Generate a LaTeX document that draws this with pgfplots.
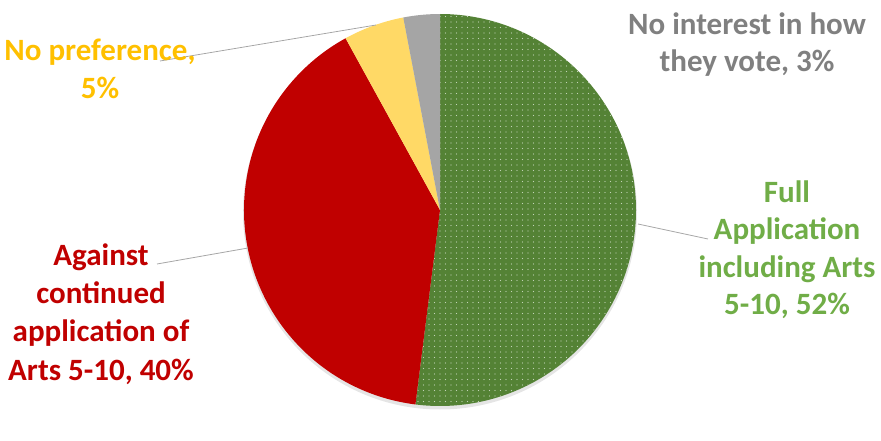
\documentclass[border=0pt]{standalone}
\usepackage{pgfplots}
\pgfplotsset{compat=1.18}
\usepackage{pgfplotstable}
\usetikzlibrary{patterns.meta}
\usepackage{fontspec}
\setmainfont{Carlito}

\definecolor{sgreen}{HTML}{548235}
\definecolor{sred}{HTML}{C00000}
\definecolor{syellow}{HTML}{FFD966}
\definecolor{sgray}{HTML}{A5A5A5}
\definecolor{lgreen}{HTML}{70AD47}
\definecolor{lred}{HTML}{C00000}
\definecolor{lyellow}{HTML}{FFC000}
\definecolor{lgray}{HTML}{808080}
\definecolor{leader}{HTML}{A6A6A6}

\tikzset{lbl/.style={font=\bfseries\fontsize{31}{37.5}\selectfont, anchor=base, inner sep=0pt}}

% shares in percent, clockwise from 12 o'clock
\pgfplotstableread{
share
52
40
5
3
}\piedata

\begin{document}
\begin{tikzpicture}
\pgfplotstablegetelem{0}{share}\of\piedata \let\sA\pgfplotsretval
\pgfplotstablegetelem{1}{share}\of\piedata \let\sB\pgfplotsretval
\pgfplotstablegetelem{2}{share}\of\piedata \let\sC\pgfplotsretval
\pgfplotstablegetelem{3}{share}\of\piedata \let\sD\pgfplotsretval
\pgfmathsetmacro\aA{90-3.6*\sA}
\pgfmathsetmacro\aB{\aA-3.6*\sB}
\pgfmathsetmacro\aC{\aB-3.6*\sC}
\pgfmathsetmacro\aD{\aC-3.6*\sD}
\def\cx{440}\def\cy{230}\def\R{196}
\begin{axis}[
  x=1pt, y=1pt,
  xmin=0, xmax=881, ymin=0, ymax=440,
  hide axis, clip=false,
]
\path (axis cs:0,0) rectangle (axis cs:881,440);
% soft shadow
\fill[black, opacity=0.10] (axis cs:\cx,\cy-2.5) circle[radius=\R pt+1pt];
% slices
\fill[sgreen] (axis cs:\cx,\cy) -- (axis cs:{\cx+\R*cos(90)},{\cy+\R*sin(90)})
  arc[start angle=90, end angle=\aA, radius=\R pt] -- cycle;
\fill[pattern={Dots[distance=5.5pt, radius=0.6pt]}, pattern color=white!65!sgreen]
  (axis cs:\cx,\cy) -- (axis cs:{\cx+\R*cos(90)},{\cy+\R*sin(90)})
  arc[start angle=90, end angle=\aA, radius=\R pt] -- cycle;
\fill[sred] (axis cs:\cx,\cy) -- (axis cs:{\cx+\R*cos(\aA)},{\cy+\R*sin(\aA)})
  arc[start angle=\aA, end angle=\aB, radius=\R pt] -- cycle;
\fill[syellow] (axis cs:\cx,\cy) -- (axis cs:{\cx+\R*cos(\aB)},{\cy+\R*sin(\aB)})
  arc[start angle=\aB, end angle=\aC, radius=\R pt] -- cycle;
\fill[sgray] (axis cs:\cx,\cy) -- (axis cs:{\cx+\R*cos(\aC)},{\cy+\R*sin(\aC)})
  arc[start angle=\aC, end angle=\aD, radius=\R pt] -- cycle;

% leader lines
\draw[leader, line width=0.8pt] (axis cs:638,216) -- (axis cs:708,201);
\draw[leader, line width=0.8pt] (axis cs:157,176) -- (axis cs:248,192);
\draw[leader, line width=0.8pt] (axis cs:160,379) -- (axis cs:376,415);

% labels
\node[lbl, lgreen] at (axis cs:787,238) {Full};
\node[lbl, lgreen] at (axis cs:787,200.5) {Application};
\node[lbl, lgreen] at (axis cs:787,163) {including Arts};
\node[lbl, lgreen] at (axis cs:787,125.5) {5-10, 52\%};

\node[lbl, lred] at (axis cs:101,175) {Against};
\node[lbl, lred] at (axis cs:101,137) {continued};
\node[lbl, lred] at (axis cs:101,98.5) {application of};
\node[lbl, lred] at (axis cs:101,60) {Arts 5-10, 40\%};

\node[lbl, lyellow] at (axis cs:100,379) {No preference,};
\node[lbl, lyellow] at (axis cs:100,341) {5\%};

\node[lbl, lgray] at (axis cs:747,405) {No interest in how};
\node[lbl, lgray] at (axis cs:747,368) {they vote, 3\%};
\end{axis}
\end{tikzpicture}
\end{document}
